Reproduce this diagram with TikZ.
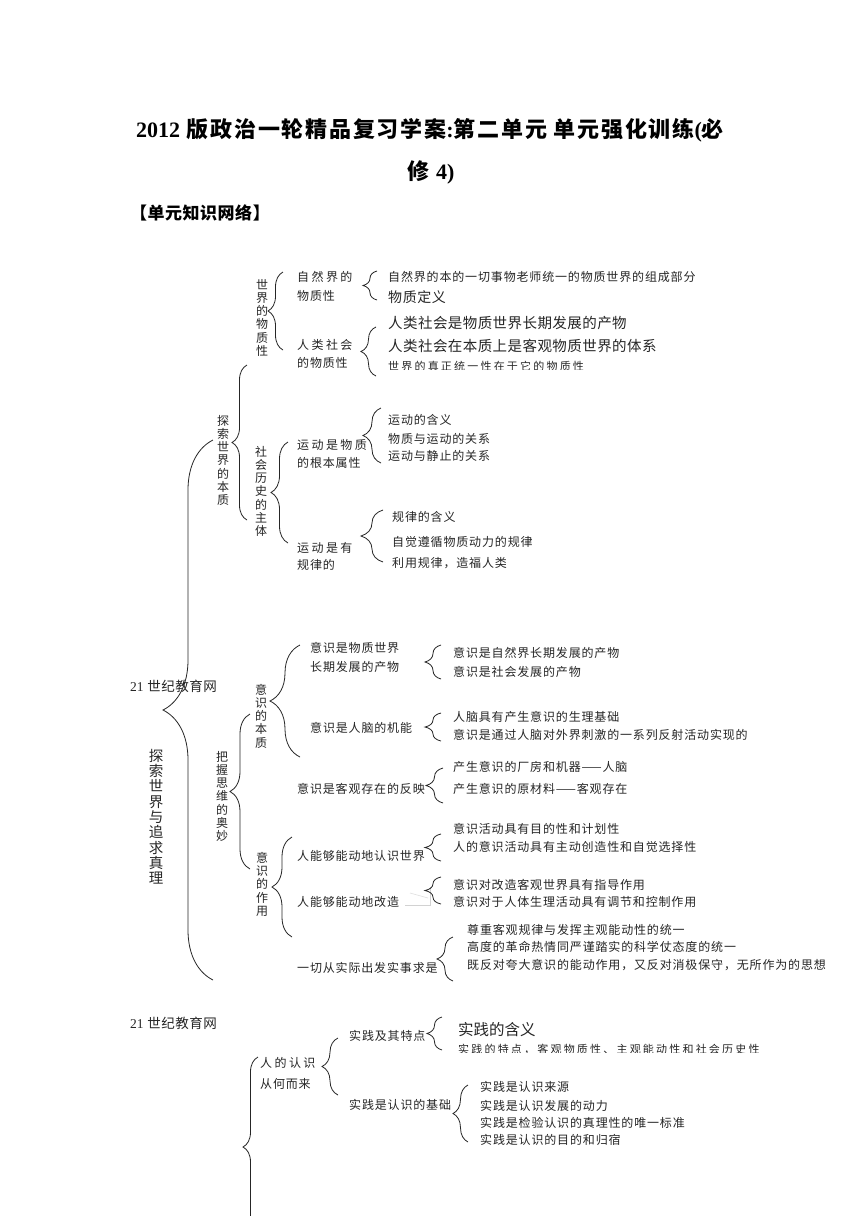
\documentclass[tikz,border=0pt]{standalone}
\usepackage{fontspec}
\setmainfont{Liberation Serif}
\newfontfamily\cjk{Noto Sans CJK SC}
\usetikzlibrary{decorations.pathreplacing}

\begin{document}
\begin{tikzpicture}[x=1pt, y=-1pt,
  brc/.style={decorate, decoration={brace, amplitude=#1}, line width=0.8pt, black!85},
  txt/.style={anchor=west, inner sep=0pt, text=black!85,
    font=\cjk\fontsize{12}{14}\selectfont\addfontfeature{LetterSpace=7}},
  spc/.style={txt, font=\cjk\fontsize{12}{14}\selectfont\addfontfeature{LetterSpace=20}},
  big/.style={txt, font=\cjk\fontsize{14.5}{17}\selectfont\addfontfeature{LetterSpace=3}},
  mid/.style={txt, font=\cjk\fontsize{14}{16}\selectfont\addfontfeature{LetterSpace=4}},
  hue/.style={txt, font=\cjk\fontsize{15.5}{18}\selectfont},
  sml/.style={txt, font=\cjk\fontsize{11}{13}\selectfont\addfontfeature{LetterSpace=20}},
  web/.style={txt, font=\cjk\fontsize{13.5}{15}\selectfont\addfontfeature{LetterSpace=4}},
  vtxt/.style={anchor=north, inner sep=0pt, align=center, text=black!85,
    font=\cjk\fontsize{12}{13.2}\selectfont},
  vbig/.style={vtxt, font=\cjk\fontsize{14.5}{15.3}\selectfont},
  ttl/.style={inner sep=0pt, font=\cjk\bfseries\fontsize{22}{26}\selectfont\addfontfeature{LetterSpace=8}},
  head/.style={anchor=west, inner sep=0pt, font=\cjk\bfseries\fontsize{17}{19}\selectfont\addfontfeature{LetterSpace=3}}
  ]
  \useasboundingbox[fill=white] (0, 0) rectangle (860, 1216);

  \node[ttl] (title1) at (430, 130) {{\rmfamily 2012} 版政治一轮精品复习学案{\rmfamily :}第二单元 单元强化训练{\rmfamily (}必};
  \node[ttl] (title2) at (431, 172) {修 {\rmfamily 4)}};
  \node[head] (netw) at (130, 213) {【单元知识网络】};

  % 探索世界与追求真理
  \node[vbig] (tszl) at (156, 749) {探\\索\\世\\界\\与\\追\\求\\真\\理};
  \draw[brc=50] (213, 980) coordinate (tszlB) -- (213, 440) coordinate (tszlT);

  % 探索世界的本质
  \node[vtxt] (tsbz) at (223, 415) {探\\索\\世\\界\\的\\本\\质};
  \draw[brc=15] (247, 520) coordinate (tsbzB) -- (247, 365) coordinate (tsbzT);

  \node[vtxt] (sjwz) at (262, 279) {世\\界\\的\\物\\质\\性};
  \draw[brc=15] (283, 350) coordinate (sjwzB) -- (283, 272) coordinate (sjwzT);

  \node[spc] (zrj1) at (297, 277) {自然界的};
  \node[txt] (zrj2) at (297, 296) {物质性};
  \draw[brc=14] (377, 300) coordinate (zrjB) -- (377, 271) coordinate (zrjT);
  \node[txt] (zrjA) at (388, 277) {自然界的本的一切事物老师统一的物质世界的组成部分};
  \node[mid] (zrjC) at (388, 297) {物质定义};

  \node[spc] (rlsh1) at (297, 345) {人类社会};
  \node[txt] (rlsh2) at (297, 363) {的物质性};
  \draw[brc=15] (376, 376) coordinate (rlshB) -- (376, 327) coordinate (rlshT);
  \node[big] (rlshA) at (388, 323) {人类社会是物质世界长期发展的产物};
  \node[big] (rlshC) at (388, 346) {人类社会在本质上是客观物质世界的体系};
  \begin{scope}
    \clip (380, 355) rectangle (700, 369.5);
    \node[sml] (rlshD) at (388, 366) {世界的真正统一性在于它的物质性};
  \end{scope}

  \node[vtxt] (shls) at (261, 446) {社\\会\\历\\史\\的\\主\\体};
  \draw[brc=17] (288, 543) coordinate (shlsB) -- (288, 442) coordinate (shlsT);

  \node[spc] (ydwz1) at (297, 445) {运动是物质};
  \node[txt] (ydwz2) at (297, 463) {的根本属性};
  \draw[brc=18] (381, 463) coordinate (ydwzB) -- (381, 408) coordinate (ydwzT);
  \node[txt] (ydwzA) at (388, 420) {运动的含义};
  \node[txt] (ydwzC) at (388, 439) {物质与运动的关系};
  \node[txt] (ydwzD) at (388, 456) {运动与静止的关系};

  \node[spc] (ydgl1) at (297, 548) {运动是有};
  \node[txt] (ydgl2) at (297, 565) {规律的};
  \draw[brc=22] (383, 562) coordinate (ydglB) -- (383, 510) coordinate (ydglT);
  \node[txt] (ydglA) at (392, 517) {规律的含义};
  \node[txt] (ydglC) at (392, 542) {自觉遵循物质动力的规律};
  \node[txt] (ydglD) at (392, 563) {利用规律，造福人类};

  \node[web] (web1) at (130, 686) {{\rmfamily 21} 世纪教育网};

  % 把握思维的奥妙
  \node[vtxt] (bwsw) at (222, 751) {把\\握\\思\\维\\的\\奥\\妙};
  \draw[brc=20] (250, 869) coordinate (bwswB) -- (250, 714) coordinate (bwswT);

  \node[vtxt] (yszb) at (261, 684) {意\\识\\的\\本\\质};
  \draw[brc=30] (300, 757) coordinate (yszbB) -- (300, 645) coordinate (yszbT);

  \node[txt] (wzsj1) at (310, 648) {意识是物质世界};
  \node[txt] (wzsj2) at (310, 667) {长期发展的产物};
  \draw[brc=16] (441, 679) coordinate (wzsjB) -- (441, 645) coordinate (wzsjT);
  \node[txt] (wzsjA) at (453, 653) {意识是自然界长期发展的产物};
  \node[txt] (wzsjC) at (453, 672) {意识是社会发展的产物};

  \node[txt] (rnjn) at (310, 728) {意识是人脑的机能};
  \draw[brc=16] (441, 741) coordinate (rnjnB) -- (441, 713) coordinate (rnjnT);
  \node[txt] (rnjnA) at (453, 717) {人脑具有产生意识的生理基础};
  \node[txt] (rnjnC) at (453, 735) {意识是通过人脑对外界刺激的一系列反射活动实现的};

  \node[txt] (fy) at (297, 789) {意识是客观存在的反映};
  \draw[brc=17] (443, 803) coordinate (fyB) -- (443, 768) coordinate (fyT);
  \node[txt] (fyA) at (453, 767) {产生意识的厂房和机器——人脑};
  \node[txt] (fyC) at (453, 789) {产生意识的原材料——客观存在};

  \node[vtxt] (yszy) at (262, 852) {意\\识\\的\\作\\用};
  \draw[brc=20] (292, 937) coordinate (yszyB) -- (292, 837) coordinate (yszyT);

  \node[txt] (rsj) at (297, 856) {人能够能动地认识世界};
  \draw[brc=16] (441, 861) coordinate (rsjB) -- (441, 834) coordinate (rsjT);
  \node[txt] (rsjA) at (453, 829) {意识活动具有目的性和计划性};
  \node[txt] (rsjC) at (453, 847) {人的意识活动具有主动创造性和自觉选择性};

  \node[txt] (gz) at (297, 902) {人能够能动地改造};
  \draw[gray!35, line width=0.6pt] (405, 905) -- (430, 905) -- (430, 887);
  \draw[gray!25, line width=0.6pt] (410, 893) -- (428, 898);
  \draw[brc=16] (441, 904) coordinate (gzB) -- (441, 877) coordinate (gzT);
  \node[txt] (gzA) at (453, 885) {意识对改造客观世界具有指导作用};
  \node[txt] (gzC) at (453, 902) {意识对于人体生理活动具有调节和控制作用};

  \node[txt] (ssqs) at (297, 968) {一切从实际出发实事求是};
  \draw[brc=16] (453, 981) coordinate (ssqsB) -- (453, 937) coordinate (ssqsT);
  \node[txt] (ssqsA) at (467, 930) {尊重客观规律与发挥主观能动性的统一};
  \node[txt] (ssqsC) at (467, 947) {高度的革命热情同严谨踏实的科学仗态度的统一};
  \node[txt] (ssqsD) at (467, 965) {既反对夸大意识的能动作用，又反对消极保守，无所作为的思想};

  \node[web] (web2) at (130, 1023) {{\rmfamily 21} 世纪教育网};

  % 人的认识从何而来
  \draw[brc=15] (258, 1237) coordinate (rsB) -- (258, 1057) coordinate (rsT);
  \node[spc] (rdrs1) at (260, 1063) {人的认识};
  \node[txt] (rdrs2) at (260, 1084) {从何而来};
  \draw[brc=16] (338, 1095) coordinate (rdrsB) -- (338, 1038) coordinate (rdrsT);

  \node[txt] (sjtd) at (349, 1036) {实践及其特点};
  \draw[brc=15] (442, 1050) coordinate (sjtdB) -- (442, 1017) coordinate (sjtdT);
  \node[hue] (sjtdA) at (458, 1030) {实践的含义};
  \begin{scope}
    \clip (450, 1040) rectangle (800, 1052.5);
    \node[sml] (sjtdC) at (458, 1049) {实践的特点，客观物质性、主观能动性和社会历史性};
  \end{scope}

  \node[txt] (sjjc) at (349, 1105) {实践是认识的基础};
  \draw[brc=15] (468, 1142) coordinate (sjjcB) -- (468, 1085) coordinate (sjjcT);
  \node[txt] (sjjcA) at (480, 1087) {实践是认识来源};
  \node[txt] (sjjcC) at (480, 1106) {实践是认识发展的动力};
  \node[txt] (sjjcD) at (480, 1123) {实践是检验认识的真理性的唯一标准};
  \node[txt] (sjjcE) at (480, 1140) {实践是认识的目的和归宿};
\end{tikzpicture}
\end{document}
